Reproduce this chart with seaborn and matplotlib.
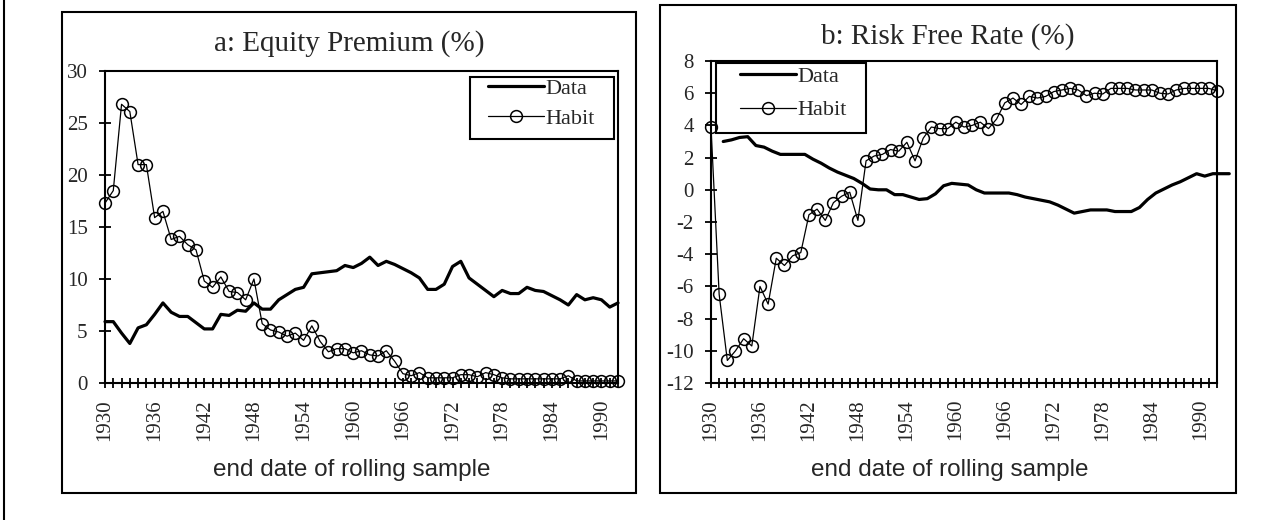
import numpy as np
import pandas as pd
import matplotlib
matplotlib.use("Agg")
import matplotlib.pyplot as plt
import seaborn as sns
from matplotlib.patches import Rectangle
from matplotlib.lines import Line2D

# end year of each rolling sample
years = list(range(1930, 1993))

# panel a: equity premium (%)
ep_data = [5.9, 5.9, 4.8, 3.8, 5.3, 5.6, 6.6, 7.7, 6.8, 6.4,
           6.4, 5.8, 5.2, 5.2, 6.6, 6.5, 7.0, 6.9, 7.7, 7.1,
           7.1, 8.0, 8.5, 9.0, 9.2, 10.5, 10.6, 10.7, 10.8, 11.3,
           11.1, 11.5, 12.1, 11.3, 11.7, 11.4, 11.0, 10.6, 10.1, 9.0,
           9.0, 9.5, 11.2, 11.7, 10.1, 9.5, 8.9, 8.3, 8.9, 8.6,
           8.6, 9.2, 8.9, 8.8, 8.4, 8.0, 7.5, 8.5, 8.0, 8.2,
           8.0, 7.3, 7.7]
ep_habit = [17.3, 18.5, 26.8, 26.1, 21.0, 21.0, 15.9, 16.5, 13.8, 14.1,
            13.3, 12.8, 9.8, 9.2, 10.2, 8.8, 8.7, 8.0, 10.0, 5.7,
            5.1, 4.9, 4.5, 4.8, 4.1, 5.5, 4.0, 3.0, 3.3, 3.3,
            2.9, 3.1, 2.7, 2.6, 3.1, 2.1, 0.9, 0.7, 1.0, 0.5,
            0.5, 0.5, 0.5, 0.8, 0.8, 0.6, 1.0, 0.8, 0.5, 0.4,
            0.4, 0.4, 0.4, 0.4, 0.4, 0.4, 0.7, 0.2, 0.2, 0.2,
            0.2, 0.2, 0.2]

# panel b: risk free rate (%)
rf_habit = [3.9, -6.5, -10.6, -10.0, -9.25, -9.7, -6.0, -7.1, -4.25, -4.7,
            -4.1, -3.9, -1.55, -1.2, -1.9, -0.8, -0.4, -0.15, -1.9, 1.8,
            2.1, 2.2, 2.5, 2.4, 2.95, 1.8, 3.2, 3.9, 3.8, 3.8,
            4.2, 3.9, 4.0, 4.2, 3.8, 4.4, 5.4, 5.7, 5.3, 5.8,
            5.7, 5.8, 6.1, 6.2, 6.3, 6.2, 5.85, 6.0, 5.95, 6.3,
            6.3, 6.3, 6.2, 6.2, 6.2, 6.0, 5.95, 6.2, 6.3, 6.3,
            6.3, 6.3, 6.15]
rf_data = [3.0, 3.1, 3.25, 3.3, 2.75, 2.65, 2.4, 2.2, 2.2, 2.2,
           2.2, 1.9, 1.65, 1.35, 1.1, 0.9, 0.7, 0.4, 0.05, 0.0,
           0.0, -0.3, -0.3, -0.45, -0.6, -0.55, -0.25, 0.25, 0.4, 0.35,
           0.3, 0.0, -0.2, -0.2, -0.2, -0.2, -0.3, -0.45, -0.55, -0.65,
           -0.75, -0.95, -1.2, -1.45, -1.35, -1.25, -1.25, -1.25, -1.35, -1.35,
           -1.35, -1.1, -0.6, -0.2, 0.05, 0.3, 0.5, 0.75, 1.0, 0.85,
           1.0, 1.0, 1.0]
rf_data_offset = 1.5  # the Data series sits 1.5 years to the right in the original

sns.set_style("white")
plt.rcParams['font.family'] = ['Liberation Serif', 'DejaVu Serif']
plt.rcParams['axes.unicode_minus'] = False

W, H = 1287, 520
fig = plt.figure(figsize=(W / 100, H / 100), dpi=100)


def fx(x):
    return x / W


def fy(y):
    return 1 - y / H


def add_box(x0, y0, x1, y1, lw=1.5):
    fig.add_artist(Rectangle((fx(x0), fy(y1)), fx(x1 - x0), (y1 - y0) / H,
                             transform=fig.transFigure, fill=False,
                             edgecolor='black', linewidth=lw))


# outer frames
fig.add_artist(Line2D([fx(4), fx(4)], [0, 1], transform=fig.transFigure, color='black', lw=1.5))
add_box(62, 12, 636, 493)
add_box(660, 5, 1236, 493)


def draw_panel(rect, data_x, data_y, habit_y, ylim, ystep, title, title_xy,
               xlabel_xy, leg_box, leg_anchor, leg_spacing):
    x0, y0, x1, y1 = rect
    ax = fig.add_axes([fx(x0), fy(y1), fx(x1 - x0), (y1 - y0) / H])
    df_d = pd.DataFrame({'year': data_x, 'value': data_y})
    df_h = pd.DataFrame({'year': years, 'value': habit_y})
    sns.lineplot(data=df_d, x='year', y='value', color='black', lw=2.3, ax=ax, legend=False)
    sns.lineplot(data=df_h, x='year', y='value', color='black', lw=0.9, marker='o',
                 markersize=8.5, markerfacecolor='none', markeredgecolor='black',
                 markeredgewidth=1.1, ax=ax, legend=False)
    for ln in ax.lines:
        ln.set_clip_on(False)

    ax.set_xlim(1930, 1992)
    ax.set_ylim(*ylim)
    ax.set_xticks(range(1930, 1993, 6))
    ax.set_xticks(years, minor=True)
    ax.set_yticks(np.arange(ylim[0], ylim[1] + 0.1, ystep))
    ax.tick_params(axis='x', which='both', bottom=True, direction='inout', length=7,
                   width=1.3, color='black', labelsize=15, pad=8, labelrotation=90)
    ax.tick_params(axis='y', left=True, direction='inout', length=9, width=1.3,
                   color='black', labelsize=15, pad=8)
    ax.set_xlabel('')
    ax.set_ylabel('')
    for sp in ax.spines.values():
        sp.set_linewidth(1.5)
        sp.set_color('black')

    fig.text(fx(title_xy[0]), fy(title_xy[1]), title, ha='center', va='center', fontsize=21)
    fig.text(fx(xlabel_xy[0]), fy(xlabel_xy[1]), 'end date of rolling sample',
             ha='center', va='center', fontsize=17.5, family=['Liberation Sans', 'DejaVu Sans'])

    add_box(*leg_box)
    ax.legend(ax.lines[:2], ['Data', 'Habit'], frameon=False, loc='upper left',
              bbox_to_anchor=(fx(leg_anchor[0]), fy(leg_anchor[1])),
              bbox_transform=fig.transFigure, handlelength=2.5, handletextpad=0.1,
              labelspacing=leg_spacing, borderpad=0, borderaxespad=0,
              prop={'family': 'Liberation Serif', 'size': 16})
    return ax


draw_panel((105, 71, 618, 383), years, ep_data, ep_habit, (0, 30), 5,
           'a: Equity Premium (%)', (349, 44), (352, 470),
           (470, 77, 614, 139), (488, 78), 0.45)

draw_panel((711, 61, 1217, 383), [y + rf_data_offset for y in years], rf_data, rf_habit,
           (-12, 8), 2, 'b: Risk Free Rate (%)', (948, 37), (950, 470),
           (716, 63, 866, 133), (740, 66), 0.6)

fig.savefig('out.png', dpi=100)
